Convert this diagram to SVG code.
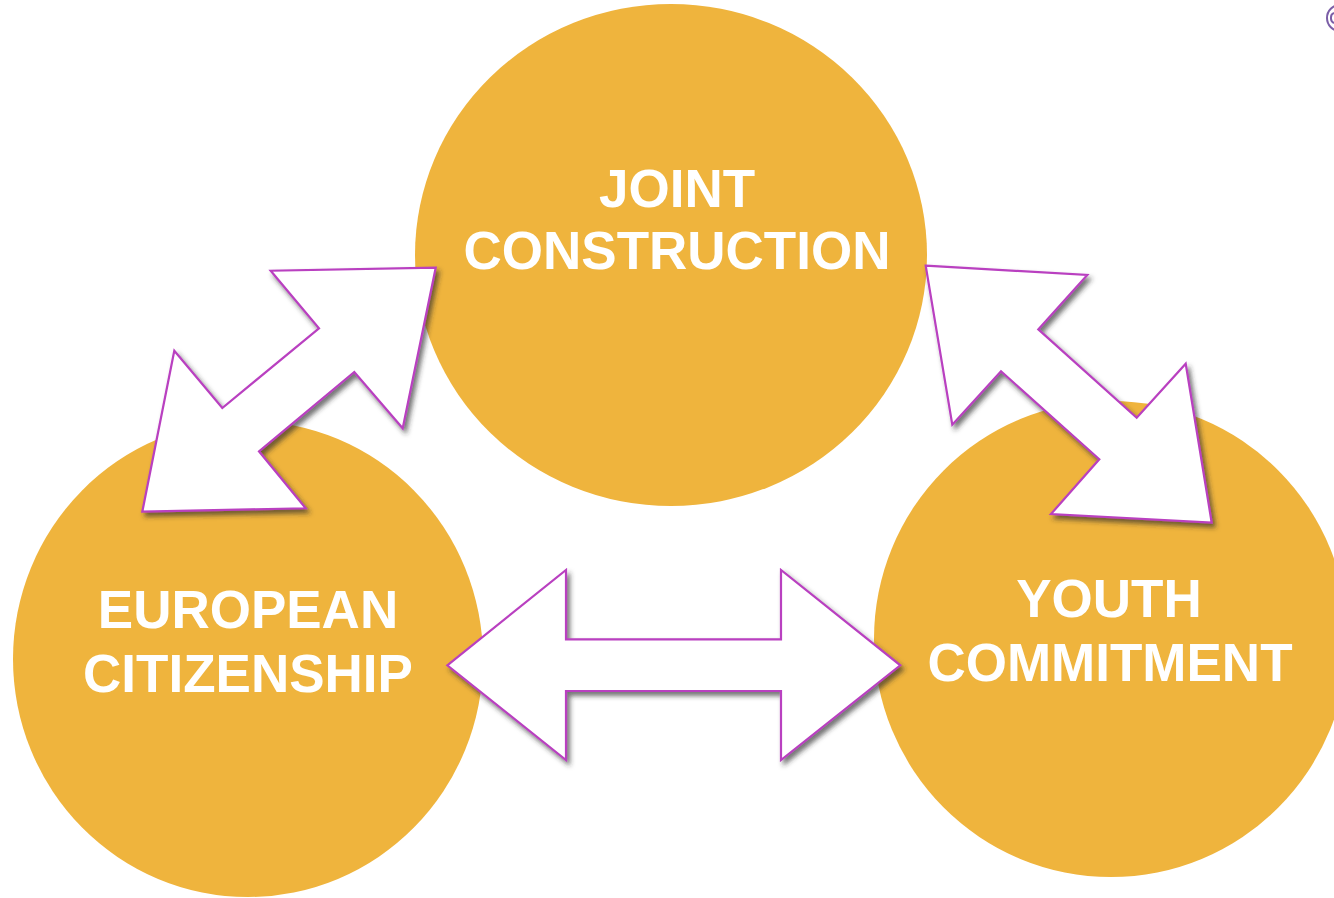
<svg xmlns="http://www.w3.org/2000/svg" width="1334" height="898" viewBox="0 0 1334 898">
  <defs>
    <filter id="shadow" x="-10%" y="-10%" width="130%" height="130%">
      <feDropShadow dx="3" dy="4" stdDeviation="2.5" flood-color="#2b2b2b" flood-opacity="0.65"/>
    </filter>
    <style>
      .circle { fill: #EFB43D; }
      .label { font-family: "Liberation Sans", Arial, sans-serif; font-weight: bold; font-size: 53px; fill: #FFFFFF; text-anchor: middle; }
      .arrow { fill: #FFFFFF; stroke: #B93FC0; stroke-width: 2.2; stroke-linejoin: miter; filter: url(#shadow); }
    </style>
  </defs>
  <rect x="0" y="0" width="1334" height="898" fill="#FFFFFF"/>

  <g id="node-joint-construction">
    <ellipse class="circle" cx="671" cy="255" rx="256" ry="251"/>
  </g>
  <g id="node-european-citizenship">
    <ellipse class="circle" cx="248" cy="659" rx="235" ry="238"/>
  </g>
  <g id="node-youth-commitment">
    <ellipse class="circle" cx="1111" cy="639" rx="237" ry="238"/>
  </g>

  <g id="connectors">
    <polygon class="arrow" points="435.7,267.7 402.7,428.3 354.3,372 259,451.3 305.7,508.3 142.3,511.7 174.3,350.7 222.3,408 319,328.3 270.7,270.7"/>
    <polygon class="arrow" points="925.7,265.7 1087.3,275 1038.3,329.3 1136.7,417.7 1185.7,363.7 1211.7,522.7 1051,514 1099.3,459.3 1001,371.3 952.3,424.7"/>
    <polygon class="arrow" points="447.3,665.3 566,570 566,639.3 781,639.3 781,570 900.3,665.3 781,760 781,691 566,691 566,760"/>
  </g>

  <g id="labels">
    <text class="label" x="677" y="207">JOINT</text>
    <text class="label" x="677" y="269">CONSTRUCTION</text>
    <text class="label" x="248" y="628">EUROPEAN</text>
    <text class="label" x="248" y="692">CITIZENSHIP</text>
    <text class="label" x="1109" y="617">YOUTH</text>
    <text class="label" x="1110" y="681">COMMITMENT</text>
  </g>

  <g id="corner-mark">
    <circle cx="1340" cy="18" r="13" fill="none" stroke="#7B5EA7" stroke-width="2"/>
    <path d="M1334,13 A5,5 0 0 0 1331,18 A5,5 0 0 0 1334,23" fill="none" stroke="#7B5EA7" stroke-width="2"/>
  </g>
</svg>
